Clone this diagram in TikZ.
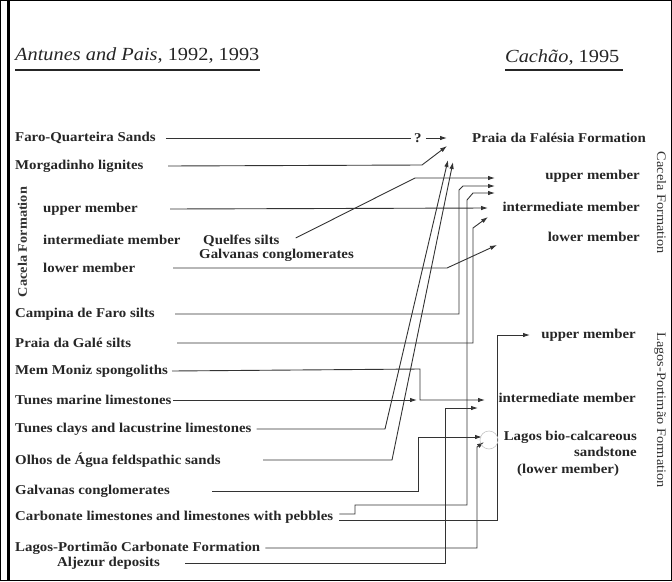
\documentclass[tikz,border=0pt]{standalone}
\usepackage{fontspec}
\setmainfont{Liberation Serif}[FakeStretch=1.1]
\usetikzlibrary{arrows.meta,calc}
\begin{document}
\begin{tikzpicture}[x=1pt,y=-1pt]
\tikzset{
 lbl/.style={font=\fontsize{13.5}{15}\selectfont\bfseries, text=black!85, inner sep=0pt, anchor=west},
 rlbl/.style={lbl, anchor=east},
 vlbl/.style={font=\fontsize{13}{14}\selectfont, text=black!80, inner sep=0pt, anchor=base},
 ttl/.style={font=\fontsize{18.5}{20}\selectfont, text=black!85, inner sep=0pt, anchor=base west},
 conn/.style={draw=black!80, line width=0.9pt},
 arr/.style={conn, -{Latex[length=7pt,width=4.5pt]}},
}
\useasboundingbox (0,0) rectangle (672,581);
\fill[white] (0,0) rectangle (672,581);
% frame
\draw[line width=1.4pt] (0.7,0.7) rectangle (671.3,580.3);
\draw[line width=3pt] (8.5,0) -- (8.5,581);
% titles
\node[ttl] (t1) at (15,60) {\textit{Antunes and Pais}, 1992, 1993};
\draw[line width=1.5pt, black!85] (t1.west |- 0,70) -- (t1.east |- 0,70);
\node[ttl] (t2) at (505,62) {\textit{Cachão}, 1995};
\draw[line width=1.5pt, black!85] (t2.west |- 0,70) -- ([xshift=3pt]t2.east |- 0,70);
% left labels
\node[lbl] (faro) at (15,138) {Faro-Quarteira Sands};
\node[lbl] (morg) at (15,166) {Morgadinho lignites};
\node[lbl] (cup) at (43,209) {upper member};
\node[lbl] (cint) at (43,240) {intermediate member};
\node[lbl] (clow) at (43,268) {lower member};
\node[vlbl, font=\fontsize{13}{14}\selectfont\bfseries, rotate=90] (cacl) at (27,242) {Cacela Formation};
\node[lbl] (quel) at (203,241) {Quelfes silts};
\node[lbl] (galm) at (199,255) {Galvanas conglomerates};
\node[lbl] (camp) at (15,314) {Campina de Faro silts};
\node[lbl] (pgale) at (15,343) {Praia da Galé silts};
\node[lbl] (mem) at (15,371) {Mem Moniz spongoliths};
\node[lbl] (tmar) at (15,400) {Tunes marine limestones};
\node[lbl] (tclay) at (15,429) {Tunes clays and lacustrine limestones};
\node[lbl] (olhos) at (15,460) {Olhos de Água feldspathic sands};
\node[lbl] (galv) at (15,491) {Galvanas conglomerates};
\node[lbl] (carb) at (15,517) {Carbonate limestones and limestones with pebbles};
\node[lbl] (lagp) at (15,548) {Lagos-Portimão Carbonate Formation};
\node[lbl] (alj) at (57,563) {Aljezur deposits};
% right labels
\node[lbl] (pf) at (472,138) {Praia da Falésia Formation};
\node[rlbl] (rup) at (640,176) {upper member};
\node[rlbl] (rint) at (640,207) {intermediate member};
\node[rlbl] (rlow) at (640,237) {lower member};
\node[rlbl] (lup) at (636,335) {upper member};
\node[rlbl] (lint) at (636,398) {intermediate member};
\node[rlbl] (lbio) at (637,437) {Lagos bio-calcareous};
\node[rlbl] (lsand) at (637,452) {sandstone};
\node[lbl] (llow) at (517,470) {(lower member)};
\node[lbl] (qm) at (414,138) {?};
\node[vlbl, rotate=-90] (rcac) at (657,203) {Cacela Formation};
\node[vlbl, rotate=-90] (rlag) at (657,410) {Lagos-Portimão Formation};
% connectors
\draw[conn] ([xshift=10pt]faro.east) -- ([xshift=-3pt]qm.west);
\draw[arr] ([xshift=4pt]qm.east) -- ([xshift=-25pt]pf.west);
\draw[arr] (morg.east -| 168,0) -- (422,165) -- ([shift={(-25,8)}]pf.west);
\draw[arr] (cup.east -| 170,0) -- ([shift={(-152,1)}]rint.east);
\draw[arr] (clow.east -| 173,0) -- (447,268) -- ([shift={(-143,8)}]rlow.east);
\draw[arr] ([shift={(16,-3)}]quel.east) -- (415,178) -- ([shift={(-145,2)}]rup.east);
\draw[arr] (camp.east -| 175,0) -- (459,314) -- (459,190) -- (463,186) -- ([shift={(-145,10)}]rup.east);
\draw[arr] (pgale.east -| 177,0) -- (473,343) -- (473,228) -- ([shift={(-152,10)}]rint.east);
\coordinate (memc) at (420,400);
\draw[arr] (mem.east -| 172,0) -- (420,369) -- (memc) -- ([shift={(-151,2)}]lint.east);
\draw[arr] (tmar.east -| 173,0) -- ([xshift=-3pt]memc);
\draw[arr] ([xshift=5pt]tclay.east) -- (385,429) -- ([shift={(-24,22)}]pf.west);
\draw[arr] (olhos.east -| 263,0) -- (392,460) -- ([shift={(-19,24)}]pf.west);
\draw[arr] (galv.east -| 212,0) -- (418,491) -- (418,437) -- ([shift={(-155,0)}]lbio.east);
\draw[arr] ([shift={(6,-3)}]carb.east) coordinate (ca) -- (ca -| 355,0) -- (355,505) -- (467,505) -- (467,200) -- (473,193) -- ([shift={(-145,17)}]rup.east);
\draw[arr] ([shift={(6,3)}]carb.east) coordinate (cb) -- (cb -| 497,0) -- (497,335) -- ([xshift=-106pt]lup.east);
\draw[arr] ([xshift=5pt]lagp.east) -- (477,548) -- (477,447) -- ([shift={(-153,5)}]lbio.east);
\draw[arr] (alj.east -| 185,0) -- (445,563) -- (445,408) -- ([shift={(-158,10)}]lint.east);
\draw[gray!45, line width=0.6pt] (489,440) circle[radius=9pt];
\end{tikzpicture}
\end{document}
